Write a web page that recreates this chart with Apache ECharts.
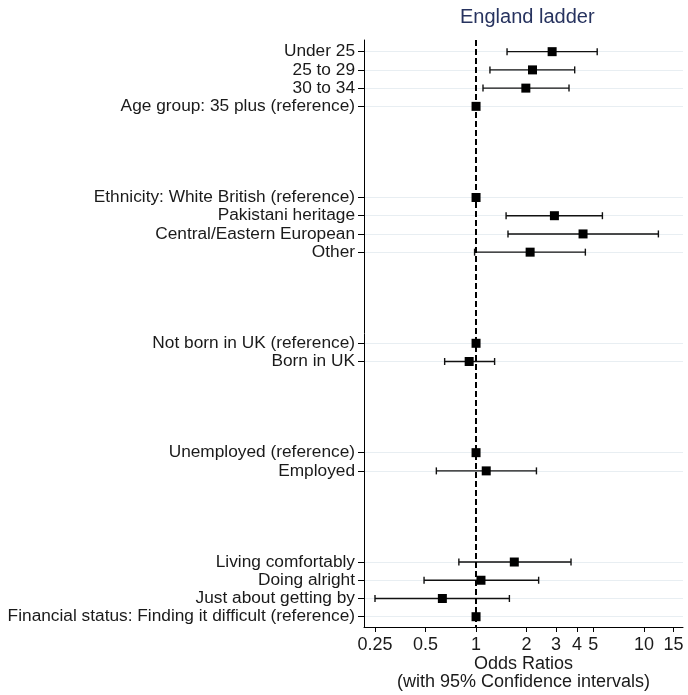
<!DOCTYPE html>
<html>
<head>
<meta charset="utf-8">
<title>England ladder</title>
<script src="https://cdn.jsdelivr.net/npm/echarts@6/dist/echarts.min.js"></script>
<style>
  html, body { margin: 0; padding: 0; background: #fff; }
  #main { width: 688px; height: 695px; }
</style>
</head>
<body>
<div id="main"></div>
<script>
// rows from top to bottom, '' = spacer row between groups
const rowLabels = [
	'Under 25', '25 to 29', '30 to 34', 'Age group: 35 plus (reference)',
	'', '', '', '',
	'Ethnicity: White British (reference)', 'Pakistani heritage', 'Central/Eastern European', 'Other',
	'', '', '', '',
	'Not born in UK (reference)', 'Born in UK',
	'', '', '', '',
	'Unemployed (reference)', 'Employed',
	'', '', '', '',
	'Living comfortably', 'Doing alright', 'Just about getting by', 'Financial status: Finding it difficult (reference)'
];
const oddsRatio = [
	2.84, 2.17, 1.98, 1,
	null, null, null, null,
	1, 2.93, 4.34, 2.10,
	null, null, null, null,
	1, 0.91,
	null, null, null, null,
	1, 1.15,
	null, null, null, null,
	1.69, 1.07, 0.63, 1
];
const ciLow = [
	1.53, 1.21, 1.10, null,
	null, null, null, null,
	null, 1.51, 1.55, 0.98,
	null, null, null, null,
	null, 0.65,
	null, null, null, null,
	null, 0.58,
	null, null, null, null,
	0.79, 0.49, 0.25, null
];
const ciHigh = [
	5.27, 3.87, 3.58, null,
	null, null, null, null,
	null, 5.66, 12.2, 4.48,
	null, null, null, null,
	null, 1.29,
	null, null, null, null,
	null, 2.29,
	null, null, null, null,
	3.68, 2.36, 1.58, null
];
const xTicks = [0.25, 0.5, 1, 2, 3, 4, 5, 10, 15];

const FONT = "'Liberation Sans', Arial, Helvetica, sans-serif";

// x is drawn on a log10 value axis
const pointData = [];
const barData = [];
rowLabels.forEach((lab, i) => {
	if (oddsRatio[i] != null) pointData.push([Math.log10(oddsRatio[i]), i]);
	if (ciLow[i] != null) barData.push([Math.log10(ciLow[i]), Math.log10(ciHigh[i]), i]);
});
const labelRows = rowLabels.map((l, i) => (l ? i : -1)).filter(i => i >= 0);

const chart = echarts.init(document.getElementById('main'));
chart.setOption({
	animation: false,
	title: {
		text: 'England ladder',
		left: 455,
		top: 2,
		textStyle: { fontFamily: FONT, fontSize: 20, fontWeight: 'normal', color: '#27335f' }
	},
	grid: { left: 364, right: 5, top: 40, bottom: 68, containLabel: false, outerBoundsMode: 'none' },
	xAxis: {
		type: 'value',
		min: Math.log10(0.215),
		max: Math.log10(17.1),
		axisLine: { show: true, onZero: false, lineStyle: { color: '#000', width: 1 } },
		axisTick: { show: true, length: 5, lineStyle: { color: '#000' }, customValues: xTicks.map(Math.log10) },
		axisLabel: {
			customValues: xTicks.map(Math.log10),
			margin: 9,
			fontFamily: FONT, fontSize: 18, color: '#1a1a1a',
			formatter: v => {
				const t = xTicks.find(t => Math.abs(Math.log10(t) - v) < 1e-6);
				return t != null ? String(t) : '';
			}
		},
		splitLine: { show: false },
		name: 'Odds Ratios\n(with 95% Confidence intervals)',
		nameLocation: 'middle',
		nameGap: 28,
		nameMoveOverlap: false,
		nameTextStyle: { fontFamily: FONT, fontSize: 18, color: '#1a1a1a', lineHeight: 18 }
	},
	yAxis: {
		type: 'value',
		inverse: true,
		min: -0.64,
		max: 31.565,
		axisLine: { show: true, onZero: false, lineStyle: { color: '#000', width: 1 } },
		axisTick: { show: true, length: 6, lineStyle: { color: '#000' }, customValues: labelRows },
		axisLabel: {
			customValues: labelRows,
			margin: 9,
			fontFamily: FONT, fontSize: 17.3, color: '#1a1a1a',
			formatter: v => rowLabels[Math.round(v)] || ''
		},
		splitLine: { show: true, lineStyle: { color: '#e8eef2', width: 1 } }
	},
	series: [
		{
			type: 'custom',
			z: 2,
			data: barData,
			encode: { x: [0, 1], y: 2 },
			renderItem: (params, api) => {
				const a = api.coord([api.value(0), api.value(2)]);
				const b = api.coord([api.value(1), api.value(2)]);
				const h = 3.5;
				const style = { stroke: '#111', lineWidth: 1.4 };
				return {
					type: 'group',
					children: [
						{ type: 'line', shape: { x1: a[0], y1: a[1], x2: b[0], y2: b[1] }, style },
						{ type: 'line', shape: { x1: a[0], y1: a[1] - h, x2: a[0], y2: a[1] + h }, style },
						{ type: 'line', shape: { x1: b[0], y1: b[1] - h, x2: b[0], y2: b[1] + h }, style }
					]
				};
			},
			markLine: {
				silent: true,
				symbol: 'none',
				label: { show: false },
				lineStyle: { color: '#000', width: 2, type: [6, 3] },
				data: [{ xAxis: 0 }]
			}
		},
		{
			type: 'scatter',
			z: 5,
			symbol: 'rect',
			symbolSize: 9,
			itemStyle: { color: '#000', opacity: 1 },
			data: pointData
		}
	]
});
</script>
</body>
</html>
